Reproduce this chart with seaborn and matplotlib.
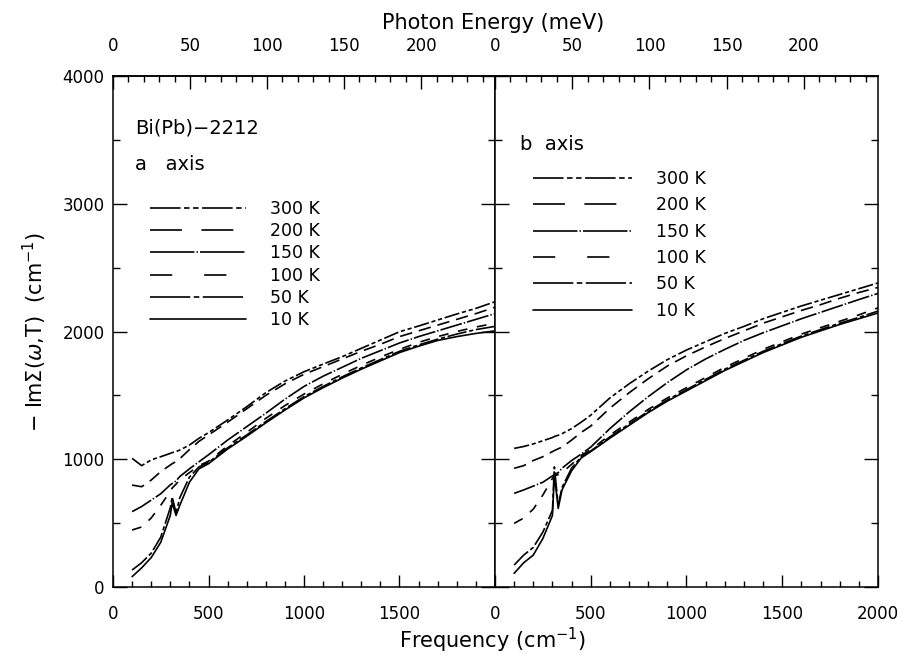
import matplotlib
matplotlib.use("Agg")
import matplotlib.pyplot as plt
from matplotlib.lines import Line2D
import seaborn as sns
import pandas as pd
from matplotlib.ticker import MultipleLocator, FixedLocator

# ---------------- data ----------------
freq = [100, 150, 200, 250, 300, 310, 330, 350, 400, 450, 500, 600, 700, 800,
        900, 1000, 1100, 1200, 1300, 1400, 1500, 1600, 1700, 1800, 1900, 2000]
temps = ["300 K", "200 K", "150 K", "100 K", "50 K", "10 K"]

a_300 = [1007, 950, 995, 1020, 1046, 1052, 1060, 1072, 1111, 1164, 1208, 1307, 1411, 1521,
         1612, 1685, 1745, 1803, 1868, 1933, 1998, 2043, 2090, 2137, 2181, 2233]
a_200 = [798, 785, 837, 903, 955, 965, 982, 1005, 1075, 1140, 1190, 1290, 1395, 1500,
         1590, 1665, 1725, 1785, 1845, 1900, 1960, 2005, 2050, 2095, 2140, 2190]
a_150 = [590, 630, 680, 730, 800, 810, 830, 865, 925, 980, 1035, 1150, 1255, 1360,
         1470, 1570, 1650, 1720, 1790, 1850, 1910, 1960, 2005, 2050, 2095, 2140]
a_100 = [446, 470, 540, 640, 750, 775, 805, 840, 895, 950, 985, 1105, 1210, 1320,
         1420, 1510, 1590, 1665, 1735, 1800, 1860, 1915, 1960, 2000, 2035, 2065]
a_50 = [133, 190, 265, 390, 620, 705, 580, 700, 860, 940, 975, 1090, 1190, 1295,
        1395, 1490, 1570, 1645, 1715, 1780, 1845, 1895, 1940, 1980, 2015, 2040]
a_10 = [81, 150, 230, 350, 560, 660, 560, 640, 820, 925, 965, 1080, 1180, 1285,
        1385, 1480, 1560, 1635, 1705, 1770, 1835, 1885, 1930, 1960, 1985, 2005]

b_300 = [1085, 1100, 1120, 1145, 1170, 1178, 1188, 1200, 1240, 1290, 1345, 1480, 1590, 1690,
         1780, 1855, 1920, 1985, 2040, 2100, 2150, 2200, 2245, 2290, 2335, 2380]
b_200 = [929, 950, 990, 1020, 1060, 1068, 1082, 1095, 1150, 1210, 1260, 1400, 1520, 1630,
         1730, 1810, 1880, 1945, 2005, 2065, 2115, 2165, 2210, 2260, 2305, 2345]
b_150 = [733, 760, 790, 820, 870, 880, 895, 930, 990, 1040, 1095, 1240, 1370, 1490,
         1600, 1700, 1785, 1860, 1930, 1990, 2045, 2100, 2150, 2200, 2250, 2298]
b_100 = [498, 540, 610, 720, 850, 870, 880, 895, 960, 1030, 1075, 1190, 1290, 1390,
         1480, 1560, 1640, 1720, 1790, 1860, 1920, 1980, 2030, 2080, 2130, 2185]
b_50 = [172, 250, 310, 430, 600, 940, 640, 780, 930, 1020, 1065, 1175, 1275, 1375,
        1465, 1545, 1625, 1705, 1775, 1845, 1905, 1965, 2015, 2065, 2110, 2160]
b_10 = [107, 190, 250, 380, 560, 880, 615, 760, 910, 1010, 1060, 1165, 1265, 1365,
        1455, 1535, 1615, 1695, 1765, 1835, 1895, 1955, 2005, 2055, 2100, 2145]

panel_a = [a_300, a_200, a_150, a_100, a_50, a_10]
panel_b = [b_300, b_200, b_150, b_100, b_50, b_10]

x_ticks_left = [0, 500, 1000, 1500]
x_ticks_right = [0, 500, 1000, 1500, 2000]
mev_ticks = [0, 50, 100, 150, 200]
y_ticks = [0, 1000, 2000, 3000, 4000]
CM_PER_MEV = 8.0655

# ---------------- styling ----------------
sns.set_theme(style="ticks")
plt.rcParams["font.family"] = ["DejaVu Sans"]
plt.rcParams["lines.scale_dashes"] = False
plt.rcParams["axes.edgecolor"] = "black"
plt.rcParams["axes.linewidth"] = 1.1
plt.rcParams["xtick.color"] = "black"
plt.rcParams["ytick.color"] = "black"
plt.rcParams["text.color"] = "black"
plt.rcParams["axes.labelcolor"] = "black"

# dash patterns for the data curves and (longer) for the key
curve_styles = {
    "300 K": (0, (11, 2, 3, 2, 3, 2)),
    "200 K": (0, (9, 5)),
    "150 K": (0, (16, 1.5, 1, 1.5)),
    "100 K": (0, (7, 7)),
    "50 K": (0, (14, 2, 3, 2)),
    "10 K": "-",
}
key_styles = {
    "300 K": (0, (22, 2.5, 4, 2.5, 4, 2.5)),
    "200 K": (0, (23, 14)),
    "150 K": (0, (32, 1.5, 1, 1.5)),
    "100 K": (0, (16, 23)),
    "50 K": (0, (29, 2.5, 4, 2.5)),
    "10 K": "-",
}

rows = []
for pname, curves in (("a", panel_a), ("b", panel_b)):
    for t, vals in zip(temps, curves):
        for f, v in zip(freq, vals):
            rows.append({"panel": pname, "temp": t, "freq": f, "value": v})
df = pd.DataFrame(rows)

fig = plt.figure(figsize=(9.03, 6.64), dpi=100)
ax1 = fig.add_axes([0.12514, 0.11596, 0.42303, 0.76958])
ax2 = fig.add_axes([0.54817, 0.11596, 0.42414, 0.76958])

for ax, pname in ((ax1, "a"), (ax2, "b")):
    for t in temps:
        sub = df[(df.panel == pname) & (df.temp == t)]
        sns.lineplot(data=sub, x="freq", y="value", ax=ax, color="black",
                     linewidth=1.2, linestyle=curve_styles[t],
                     estimator=None, sort=False, legend=False)
    ax.set_xlim(0, 2000)
    ax.set_ylim(0, 4000)
    ax.set_xlabel("")
    ax.set_ylabel("")
    ax.yaxis.set_major_locator(FixedLocator(y_ticks))
    ax.yaxis.set_minor_locator(MultipleLocator(500))
    ax.xaxis.set_minor_locator(MultipleLocator(100))
    ax.tick_params(which="both", direction="in", top=False, right=True,
                   left=True, bottom=True, width=1.0, labelsize=12)
    ax.tick_params(axis="x", which="major", length=9, pad=13)
    ax.tick_params(axis="x", which="minor", length=4)
    ax.tick_params(axis="y", which="major", length=10, pad=6)
    ax.tick_params(axis="y", which="minor", length=5)
    ax.grid(False)
    sec = ax.secondary_xaxis("top", functions=(lambda c: c / CM_PER_MEV,
                                               lambda e: e * CM_PER_MEV))
    sec.xaxis.set_major_locator(FixedLocator(mev_ticks))
    sec.xaxis.set_minor_locator(MultipleLocator(10))
    sec.tick_params(which="both", direction="in", width=1.0, labelsize=12)
    sec.tick_params(which="major", length=9, pad=15)
    sec.tick_params(which="minor", length=4)
    sec.spines["top"].set_linewidth(1.1)

ax1.xaxis.set_major_locator(FixedLocator(x_ticks_left))
ax2.xaxis.set_major_locator(FixedLocator(x_ticks_right))
ax2.tick_params(axis="y", labelleft=False)

ax1.set_ylabel(r"$-$ Im$\Sigma$($\omega$,T)  (cm$^{-1}$)", fontsize=15, labelpad=10)

ax1.text(0.058, 0.898, "Bi(Pb)\u22122212", transform=ax1.transAxes,
         fontsize=14, ha="left", va="center")
ax1.text(0.058, 0.826, "a   axis", transform=ax1.transAxes,
         fontsize=14, ha="left", va="center")
ax2.text(0.065, 0.865, "b  axis", transform=ax2.transAxes,
         fontsize=14, ha="left", va="center")

handles = [Line2D([], [], color="black", linewidth=1.2, linestyle=key_styles[t])
           for t in temps]
leg_kw = dict(loc="upper left", frameon=False, fontsize=12.5, borderpad=0,
              borderaxespad=0, handletextpad=1.4)
ax1.legend(handles, temps, bbox_to_anchor=(0.097, 0.758), handlelength=5.5,
           labelspacing=0.25, **leg_kw)
ax2.legend(handles, temps, bbox_to_anchor=(0.099, 0.816), handlelength=5.7,
           labelspacing=0.48, **leg_kw)

fig.text(0.546, 0.965, "Photon Energy (meV)", ha="center", va="center", fontsize=15)
fig.text(0.546, 0.036, "Frequency (cm$^{-1}$)", ha="center", va="center", fontsize=15)

fig.savefig("out.png", dpi=100)
